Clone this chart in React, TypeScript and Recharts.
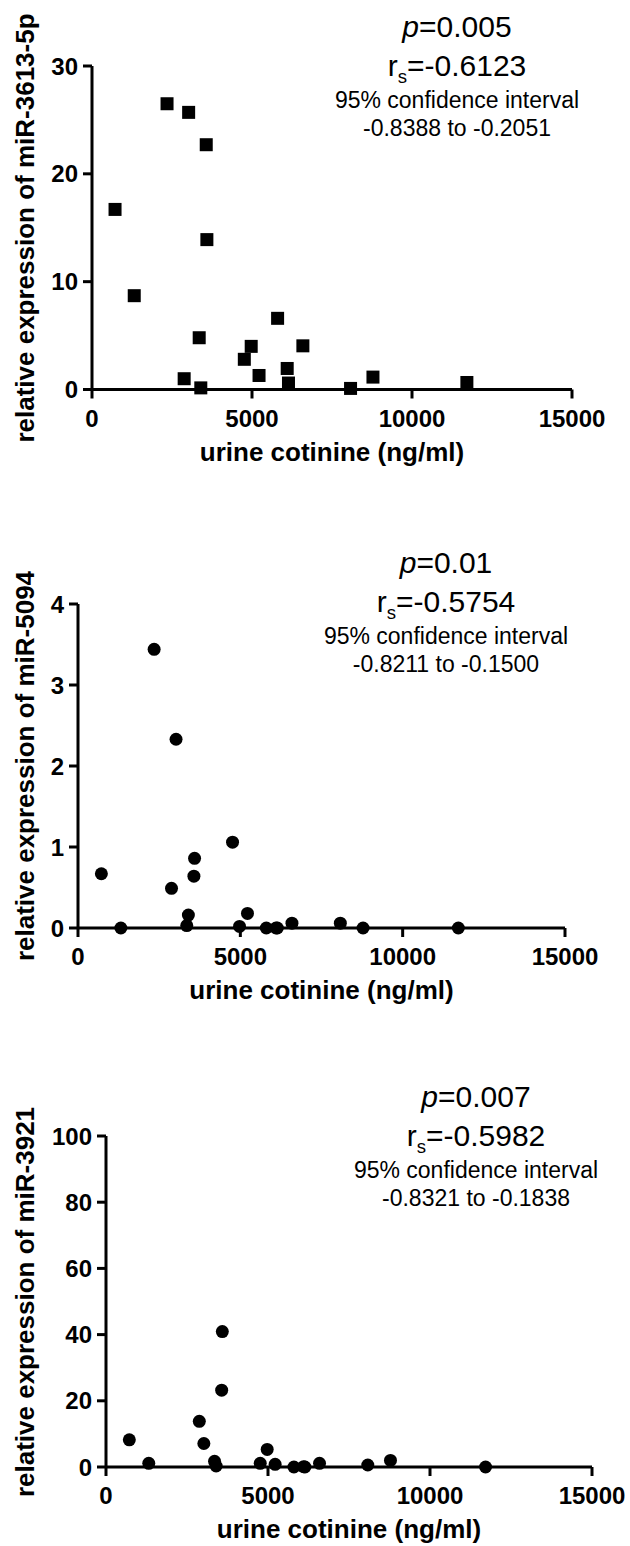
import React from 'react';
import { ScatterChart, Scatter, XAxis, YAxis } from 'recharts';

// urine cotinine (ng/ml), same subjects in every panel
const cotinine = [720, 1320, 2345, 2880, 3020, 3350, 3400, 3570, 3590, 4760, 4975, 5220, 5800, 6100, 6140, 6590, 8080, 8780, 11715];

// relative expression, in the same order as cotinine
const mir3613 = [16.7, 8.7, 26.5, 1.0, 25.7, 4.8, 0.15, 22.7, 13.9, 2.8, 4.0, 1.3, 6.6, 1.95, 0.6, 4.05, 0.1, 1.15, 0.65];
const mir5094 = [0.67, 0, 3.44, 0.49, 2.33, 0.03, 0.16, 0.64, 0.86, 1.06, 0.02, 0.18, 0, 0, 0, 0.06, 0.06, 0, 0];
const mir3921 = [8.2, 1.1, null, 13.8, 7.1, 1.7, 0.3, 23.2, 40.9, 1.1, 5.3, 0.8, 0, 0.1, 0, 1.1, 0.6, 2.0, 0];

const xTicks = [0, 5000, 10000, 15000];
const ticks3613 = [0, 10, 20, 30];
const ticks5094 = [0, 1, 2, 3, 4];
const ticks3921 = [0, 20, 40, 60, 80, 100];

const stats3613 = ['0.005', '-0.6123', '-0.8388 to -0.2051'];
const stats5094 = ['0.01', '-0.5754', '-0.8211 to -0.1500'];
const stats3921 = ['0.007', '-0.5982', '-0.8321 to -0.1838'];

const FONT = '"Liberation Sans", Arial, Helvetica, sans-serif';
const W = 630;

const toPoints = (ys: (number | null)[]) =>
  ys
    .map((y, i) => ({ x: cotinine[i], y }))
    .filter((d) => d.y !== null);

const Square = (props: any) => (
  <rect x={props.cx - 6.5} y={props.cy - 6.5} width={13} height={13} fill="#000" />
);
const Dot = (props: any) => <circle cx={props.cx} cy={props.cy} r={6.5} fill="#000" />;

interface Plot {
  left: number;
  right: number;
  top: number;
  bottom: number;
}

interface PanelProps {
  top: number;
  height: number;
  plot: Plot;
  yMax: number;
  yTicks: number[];
  values: (number | null)[];
  shape: any;
  yTitle: string;
  stats: string[];
  statX: number;
  statShift?: number;
}

const axisStyle = { stroke: '#000', strokeWidth: 3 };
const tickStyle = { fill: '#000', fontSize: 24, fontWeight: 700, fontFamily: FONT };

const Panel: React.FC<PanelProps> = ({
  top,
  height,
  plot,
  yMax,
  yTicks,
  values,
  shape,
  yTitle,
  stats,
  statX,
  statShift = 0,
}) => {
  const data = toPoints(values);
  const xAxisH = 60;
  const cy = (plot.top + plot.bottom) / 2;
  const cx = (plot.left + plot.right) / 2;
  const line = (center: number, size: number) => ({
    position: 'absolute' as const,
    left: statX - 200,
    width: 400,
    top: plot.top + statShift + center - size / 2,
    height: size,
    lineHeight: `${size}px`,
    fontSize: size,
    textAlign: 'center' as const,
    whiteSpace: 'nowrap' as const,
  });

  return (
    <>
      <div style={{ position: 'absolute', left: 0, top, width: W, height }}>
        <ScatterChart
          width={W}
          height={height}
          margin={{
            top: plot.top - top,
            right: W - plot.right,
            bottom: top + height - plot.bottom - xAxisH,
            left: 0,
          }}
        >
          <XAxis
            type="number"
            dataKey="x"
            domain={[0, 15000]}
            ticks={xTicks}
            interval={0}
            height={xAxisH}
            axisLine={axisStyle}
            tickLine={axisStyle}
            tickSize={9}
            tickMargin={11}
            tick={tickStyle}
          />
          <YAxis
            type="number"
            dataKey="y"
            domain={[0, yMax]}
            ticks={yTicks}
            interval={0}
            width={plot.left}
            axisLine={axisStyle}
            tickLine={axisStyle}
            tickSize={9}
            tickMargin={5}
            tick={tickStyle}
          />
          <Scatter data={data} shape={shape} fill="#000" isAnimationActive={false} />
        </ScatterChart>
      </div>

      {/* axis titles */}
      <div
        style={{
          position: 'absolute',
          left: cx - 250,
          width: 500,
          top: plot.bottom + 62 - 15,
          height: 30,
          lineHeight: '30px',
          fontSize: 26,
          fontWeight: 700,
          textAlign: 'center',
        }}
      >
        urine cotinine (ng/ml)
      </div>
      <div
        style={{
          position: 'absolute',
          left: 25 - 250,
          width: 500,
          top: cy - 15,
          height: 30,
          lineHeight: '30px',
          fontSize: 26,
          fontWeight: 700,
          textAlign: 'center',
          transform: 'rotate(-90deg)',
          whiteSpace: 'nowrap',
        }}
      >
        {yTitle}
      </div>

      {/* correlation stats */}
      <div style={line(-39, 30)}>
        <i>p</i>={stats[0]}
      </div>
      <div style={line(0, 30)}>
        r
        <span style={{ fontSize: '0.62em', position: 'relative', top: '0.35em' }}>s</span>={stats[1]}
      </div>
      <div style={line(34, 23)}>95% confidence interval</div>
      <div style={line(62, 23)}>{stats[2]}</div>
    </>
  );
};

const App: React.FC = () => (
  <div
    style={{
      position: 'absolute',
      left: 0,
      top: 0,
      width: W,
      height: 1546,
      background: '#fff',
      fontFamily: FONT,
      color: '#000',
    }}
  >
    <Panel
      top={0}
      height={500}
      plot={{ left: 92, right: 572, top: 66, bottom: 389.5 }}
      yMax={30}
      yTicks={ticks3613}
      values={mir3613}
      shape={Square}
      yTitle="relative expression of miR-3613-5p"
      stats={stats3613}
      statX={457}
    />
    <Panel
      top={500}
      height={520}
      plot={{ left: 78, right: 565, top: 604, bottom: 928 }}
      yMax={4}
      yTicks={ticks5094}
      values={mir5094}
      shape={Dot}
      yTitle="relative expression of miR-5094"
      stats={stats5094}
      statX={446}
      statShift={-2}
    />
    <Panel
      top={1020}
      height={526}
      plot={{ left: 106, right: 592, top: 1136, bottom: 1467 }}
      yMax={100}
      yTicks={ticks3921}
      values={mir3921}
      shape={Dot}
      yTitle="relative expression of miR-3921"
      stats={stats3921}
      statX={476}
    />
  </div>
);

export default App;
